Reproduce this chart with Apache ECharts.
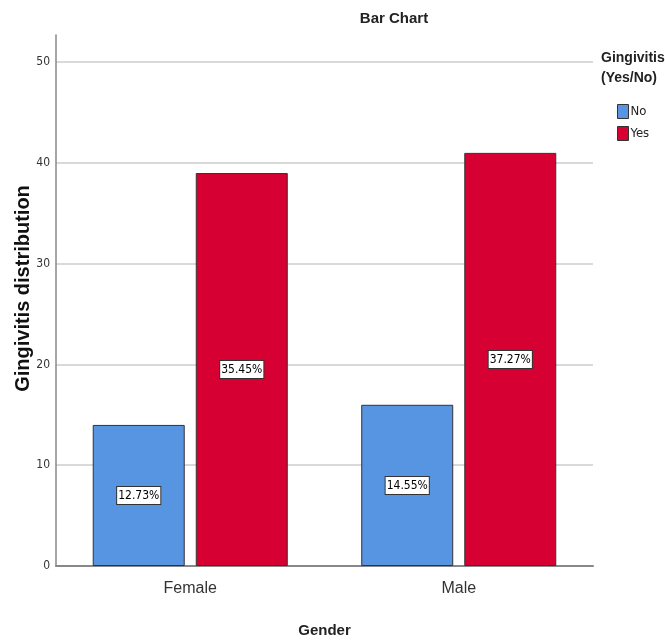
<!DOCTYPE html>
<html>
<head>
<meta charset="utf-8">
<script src="https://cdn.jsdelivr.net/npm/echarts@6/dist/echarts.min.js"></script>
<style>html,body{margin:0;padding:0;background:#fff}#c{width:665px;height:644px}</style>
</head>
<body>
<div id="c"></div>
<script>
const categories = ['Female', 'Male'];
const seriesNames = ['No', 'Yes'];
const noValues = [14, 16];
const yesValues = [39, 41];
const noLabels = ['12.73%', '14.55%'];
const yesLabels = ['35.45%', '37.27%'];
const yTicks = [0, 10, 20, 30, 40, 50];

const chart = echarts.init(document.getElementById('c'));
const narrow = '"Liberation Sans Narrow", "Arial Narrow", "DejaVu Sans Condensed", "Liberation Sans", sans-serif';
const sans = '"Liberation Sans", Arial, sans-serif';
const labelStyle = (arr) => ({
  show: true,
  position: 'inside',
  formatter: p => arr[p.dataIndex],
  color: '#000',
  fontFamily: narrow,
  fontSize: 12,
  backgroundColor: '#fff',
  borderColor: '#333',
  borderWidth: 1,
  padding: [3, 1, 2, 1]
});
chart.setOption({
  animation: false,
  title: [
    { text: 'Bar Chart', left: 394, top: 11, textAlign: 'center', padding: 0,
      textStyle: { fontFamily: sans, fontSize: 15, fontWeight: 'bold', color: '#222' } },
    { text: 'Gingivitis\n(Yes/No)', left: 601, top: 48, padding: 0,
      textStyle: { fontFamily: sans, fontSize: 14, fontWeight: 'bold', color: '#222', lineHeight: 20 } }
  ],
  legend: {
    data: seriesNames,
    orient: 'vertical',
    left: 617, top: 104, padding: 0,
    icon: 'rect',
    itemWidth: 11, itemHeight: 14, itemGap: 7,
    itemStyle: { borderColor: '#333', borderWidth: 1 },
    textStyle: { fontFamily: narrow, fontSize: 13, color: '#222', padding: [0, 0, 0, -3] }
  },
  grid: { left: 56, top: 35, width: 537, height: 531, outerBoundsMode: 'none', containLabel: false },
  xAxis: {
    type: 'category',
    data: categories,
    name: 'Gender',
    nameLocation: 'middle',
    nameGap: 57,
    nameTextStyle: { fontFamily: sans, fontSize: 15, fontWeight: 'bold', color: '#222' },
    axisLine: { lineStyle: { color: '#888', width: 2 } },
    axisTick: { show: false },
    axisLabel: { fontFamily: sans, fontSize: 16, color: '#333', margin: 15 }
  },
  yAxis: {
    type: 'value',
    min: 0, max: 52.7, interval: 10,
    name: 'Gingivitis distribution',
    nameLocation: 'middle',
    nameGap: 23,
    nameMoveOverlap: false,
    nameTextStyle: { fontFamily: sans, fontSize: 20, fontWeight: 'bold', color: '#111', padding: [0, 0, 0, 24] },
    axisLine: { show: true, lineStyle: { color: '#888', width: 1.5 } },
    axisTick: { show: false },
    axisLabel: { fontFamily: narrow, fontSize: 12, color: '#333', margin: 6, showMaxLabel: false,
      formatter: v => (yTicks.indexOf(v) >= 0 ? String(v) : '') },
    splitLine: { show: true, showMaxLine: false, lineStyle: { color: '#d9d9d9', width: 2 } }
  },
  series: [
    { name: 'No', type: 'bar', data: noValues, barWidth: 92, barGap: '12%',
      itemStyle: { color: '#5795E2', borderColor: '#333', borderWidth: 1 },
      label: labelStyle(noLabels) },
    { name: 'Yes', type: 'bar', data: yesValues, barWidth: 92,
      itemStyle: { color: '#D60032', borderColor: '#333', borderWidth: 1 },
      label: labelStyle(yesLabels) }
  ]
});
</script>
</body>
</html>
